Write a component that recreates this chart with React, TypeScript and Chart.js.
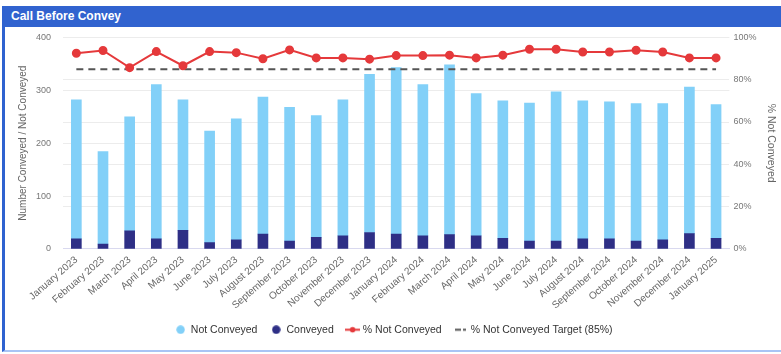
import React, { useEffect, useRef } from "react";
import { Chart, registerables } from "chart.js";

Chart.register(...registerables);

const months = [
  "January 2023", "February 2023", "March 2023", "April 2023", "May 2023", "June 2023",
  "July 2023", "August 2023", "September 2023", "October 2023", "November 2023", "December 2023",
  "January 2024", "February 2024", "March 2024", "April 2024", "May 2024", "June 2024",
  "July 2024", "August 2024", "September 2024", "October 2024", "November 2024", "December 2024",
  "January 2025",
];

const conveyed = [19, 9, 34, 19, 35, 12, 17, 28, 15, 22, 25, 31, 28, 25, 27, 25, 20, 15, 15, 19, 19, 15, 17, 29, 20];
const notConveyed = [263, 175, 216, 292, 247, 211, 229, 259, 253, 230, 257, 299, 315, 286, 321, 269, 260, 261, 282, 261, 259, 260, 258, 277, 253];
const pctNotConveyed = [92.5, 93.8, 85.7, 93.3, 86.6, 93.3, 92.8, 89.9, 94.1, 90.3, 90.3, 89.7, 91.4, 91.4, 91.6, 90.3, 91.6, 94.4, 94.4, 93.1, 93.1, 93.9, 93.1, 90.3, 90.3];
const targetPct = months.map(() => 85);

const leftTicks = [0, 100, 200, 300, 400];
const rightTicks = [0, 20, 40, 60, 80, 100];

const FONT = "'Liberation Sans', Arial, sans-serif";
const LIGHT = "#82d0f8";
const DARK = "#2e2f86";
const RED = "#e5393b";
const GREY = "#555555";

function makeIcon(kind: string): HTMLCanvasElement {
  const c = document.createElement("canvas");
  const w = kind === "line" ? 15 : kind === "dash" ? 11 : 9;
  c.width = w;
  c.height = 9;
  const g = c.getContext("2d")!;
  if (kind === "light" || kind === "dark") {
    g.fillStyle = kind === "light" ? LIGHT : DARK;
    g.beginPath();
    g.arc(4.5, 4.5, 4.2, 0, Math.PI * 2);
    g.fill();
  } else if (kind === "line") {
    g.strokeStyle = RED;
    g.lineWidth = 2;
    g.beginPath();
    g.moveTo(0, 4.5);
    g.lineTo(15, 4.5);
    g.stroke();
    g.fillStyle = RED;
    g.beginPath();
    g.arc(7.5, 4.5, 2.8, 0, Math.PI * 2);
    g.fill();
  } else {
    g.fillStyle = GREY;
    g.fillRect(0, 3.5, 6, 2);
    g.fillRect(8, 3.5, 3, 2);
  }
  return c;
}

export default function App() {
  const ref = useRef<HTMLCanvasElement | null>(null);

  useEffect(() => {
    if (!ref.current) return;
    const icons = [makeIcon("dark"), makeIcon("light"), makeIcon("line"), makeIcon("dash")];
    const rank = [1, 0, 2, 3];
    const chart = new Chart(ref.current, {
      type: "bar",
      data: {
        labels: months,
        datasets: [
          {
            type: "bar",
            label: "Conveyed",
            data: conveyed,
            backgroundColor: DARK,
            yAxisID: "y",
            stack: "s",
            barThickness: 10,
            order: 1,
          },
          {
            type: "bar",
            label: "Not Conveyed",
            data: notConveyed,
            backgroundColor: LIGHT,
            yAxisID: "y",
            stack: "s",
            barThickness: 10,
            order: 1,
          },
          {
            type: "line",
            label: "% Not Conveyed",
            data: pctNotConveyed,
            borderColor: RED,
            backgroundColor: RED,
            borderWidth: 2,
            pointRadius: 3.5,
            pointBackgroundColor: RED,
            pointBorderColor: RED,
            yAxisID: "y1",
            tension: 0,
            order: 0,
          },
          {
            type: "line",
            label: "% Not Conveyed Target (85%)",
            data: targetPct,
            borderColor: GREY,
            backgroundColor: GREY,
            borderWidth: 2,
            borderDash: [7, 5],
            pointRadius: 0,
            yAxisID: "y1",
            order: 0,
          },
        ],
      },
      options: {
        responsive: false,
        animation: false,
        maintainAspectRatio: false,
        layout: { padding: { left: 5, right: 0, top: 0, bottom: 4 } },
        plugins: {
          tooltip: { enabled: false },
          legend: {
            position: "bottom",
            labels: {
              usePointStyle: true,
              pointStyleWidth: 10,
              boxHeight: 9,
              padding: 8,
              color: "#333",
              font: { family: FONT, size: 10.5 },
              sort: (a: any, b: any) => rank[a.datasetIndex] - rank[b.datasetIndex],
              generateLabels: (ch: any) =>
                ch.data.datasets.map((ds: any, i: number) => ({
                  text: ds.label + "  ",
                  fillStyle: ds.backgroundColor,
                  strokeStyle: ds.backgroundColor,
                  lineWidth: 0,
                  pointStyle: icons[i],
                  hidden: false,
                  datasetIndex: i,
                  fontColor: "#333",
                })),
            },
          },
        },
        scales: {
          x: {
            stacked: true,
            grid: { display: false, drawTicks: false },
            border: { color: "#d9d9ef" },
            ticks: {
              color: "#666",
              font: { family: FONT, size: 10 },
              padding: 5,
              minRotation: 41,
              maxRotation: 41,
              autoSkip: false,
            },
          },
          y: {
            stacked: true,
            position: "left",
            min: 0,
            max: 400,
            afterBuildTicks: (axis: any) => {
              axis.ticks = leftTicks.map((v) => ({ value: v }));
            },
            grid: { color: "#ececec", drawTicks: true, tickLength: 9, tickColor: "rgba(0,0,0,0)" },
            border: { display: false },
            ticks: { color: "#777", font: { family: FONT, size: 9 }, padding: 3 },
            title: {
              display: true,
              text: "Number Conveyed / Not Conveyed",
              color: "#666",
              font: { family: FONT, size: 10 },
            },
          },
          y1: {
            position: "right",
            min: 0,
            max: 100,
            afterBuildTicks: (axis: any) => {
              axis.ticks = rightTicks.map((v) => ({ value: v }));
            },
            grid: { color: "#ececec", drawOnChartArea: true, drawTicks: false },
            border: { display: false },
            ticks: {
              color: "#777",
              font: { family: FONT, size: 9 },
              padding: 4,
              callback: (v: any) => v + "%",
            },
            title: {
              display: true,
              text: "% Not Conveyed",
              color: "#666",
              font: { family: FONT, size: 10.5 },
            },
          },
        },
      },
    } as any);
    return () => chart.destroy();
  }, []);

  return (
    <div style={{ position: "fixed", left: 0, top: 0, width: 781, height: 354, background: "#fff", overflow: "hidden" }}>
      <div
        style={{
          position: "absolute",
          left: 2,
          top: 6,
          width: 779,
          height: 346,
          boxSizing: "border-box",
          borderLeft: "3px solid #2f62d0",
          borderBottom: "2px solid #a9c4f5",
          background: "#fff",
        }}
      >
        <div
          style={{
            height: 21,
            background: "#3163cf",
            color: "#fff",
            fontFamily: FONT,
            fontWeight: "bold",
            fontSize: 12,
            lineHeight: "21px",
            paddingLeft: 6,
          }}
        >
          Call Before Convey
        </div>
        <canvas ref={ref} width={773} height={321} style={{ position: "absolute", left: 3, top: 22, display: "block" }} />
      </div>
    </div>
  );
}
